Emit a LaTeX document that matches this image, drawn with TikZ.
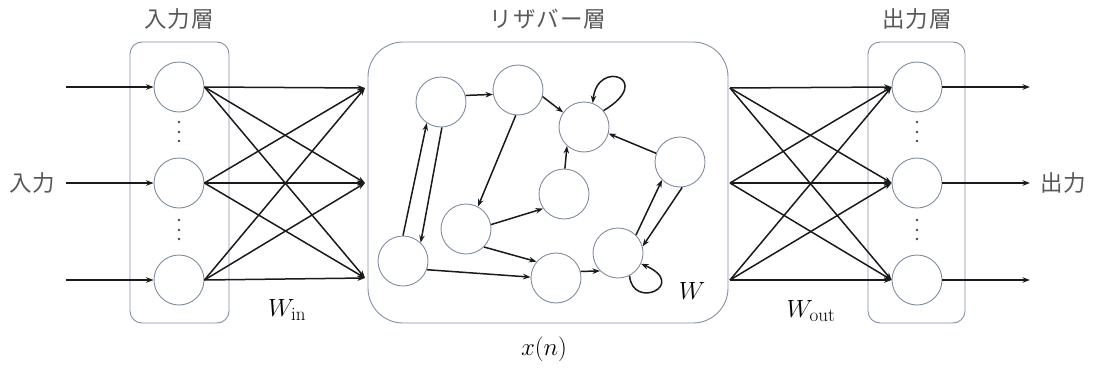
\documentclass[tikz,border=0pt]{standalone}
\usepackage{fontspec}
\usetikzlibrary{arrows.meta}
\newfontfamily\jpfont[LetterSpace=4]{Noto Sans CJK JP}
\DeclareMathSizes{25}{25}{19}{15}
\definecolor{rim}{HTML}{7F8CA0}
\definecolor{frame}{HTML}{8390A6}
\definecolor{labelgray}{HTML}{595959}
\definecolor{wire}{HTML}{1A1A1A}

\begin{document}
\begin{tikzpicture}[x=1pt,y=-1pt,
  neuron/.style={circle,draw=rim,line width=0.9pt,minimum size=50pt,inner sep=0pt,fill=white},
  layerbox/.style={draw=frame,line width=0.9pt,rounded corners=12pt},
  link/.style={draw=wire,line width=1.5pt,-{Stealth[length=7.5pt,width=5.5pt]}},
  title/.style={text=labelgray,font=\jpfont\fontsize{22.5}{26}\selectfont},
  mathlbl/.style={font=\fontsize{25}{29}\selectfont},
  dotmark/.style={fill=wire!80}
  ]
\useasboundingbox (0,0) rectangle (1094,367);

% layer frames
\draw[layerbox] (130,42) rectangle (229,323);
\draw[layerbox,rounded corners=35pt] (368,42) rectangle (728,323);
\draw[layerbox] (868,42) rectangle (965,323);

% layer titles
\node[title] (tin)  at (179,19) {入力層};
\node[title] (tres) at (548,19) {リザバー層};
\node[title] (tout) at (917,19) {出力層};
\node[title] (lin)  at (32,183) {入力};
\node[title] (lout) at (1063,183) {出力};

% input and output neurons
\foreach \n/\y in {1/87,2/183,3/280}{
  \node[neuron] (i\n) at (179,\y) {};
  \node[neuron] (o\n) at (917,\y) {};
  \coordinate (src\n) at (66,\y);
  \coordinate (dst\n) at (1030,\y);
}
\foreach \x in {179,917}{
  \foreach \y in {122,132,141,220,230,239}
    \fill[dotmark] (\x,\y) circle (1.3pt);
}

% reservoir edge ports
\coordinate (rl1) at (365,88);
\coordinate (rl2) at (365,183);
\coordinate (rl3) at (365,278);
\coordinate (rr1) at (730,88);
\coordinate (rr2) at (730,183);
\coordinate (rr3) at (730,280);

% reservoir neurons
\node[neuron] (ra) at (441,102) {};
\node[neuron] (rb) at (518,90) {};
\node[neuron] (rc) at (584,127) {};
\node[neuron] (rd) at (680,162) {};
\node[neuron] (re) at (564,194) {};
\node[neuron] (rf) at (466,229) {};
\node[neuron] (rg) at (403,261) {};
\node[neuron] (rh) at (556,278) {};
\node[neuron] (ri) at (618,253) {};

% external inputs and outputs
\foreach \n in {1,2,3}{
  \draw[link] (src\n) -- (i\n.west);
  \draw[link] (o\n.east) -- (dst\n);
}

% input weights W_in and output weights W_out
\foreach \a in {1,2,3}{
  \foreach \b in {1,2,3}{
    \draw[link] (i\a.east) -- (rl\b);
    \draw[link] (rr\a) -- (o\b.west);
  }
}

% recurrent connections W
\draw[link] (ra.15) -- (rb.190);
\draw[link] (rb.-15) -- (rc.145);
\draw[link] (rb.265) -- (rf.62);
\draw[link] (rg.90) -- (ra.236);
\draw[link] (ra.272) -- (rg.46);
\draw[link] (re.88) -- (rc.228);
\draw[link] (rd.160) -- (rc.-15);
\draw[link] (rf.10) -- (re.215);
\draw[link] (rf.315) -- (rh.140);
\draw[link] (rg.340) -- (rh.178);
\draw[link] (rh.15) -- (ri.225);
\draw[link] (ri.45) -- (rd.225);
\draw[link] (rd.275) -- (ri.15);
\draw[link] (rc.40) .. controls +(52,-31) and +(5,-45) .. (rc.70);
\draw[link] (ri.-63) .. controls +(3,35) and +(48,21) .. (ri.-25);

% weight and state labels
\node[mathlbl] (win)  at (287,310) {$W_{\mathrm{in}}$};
\node[mathlbl] (wout) at (811,311) {$W_{\mathrm{out}}$};
\node[mathlbl] (wres) at (692,291) {$W$};
\node[mathlbl] (xn)   at (544,349) {$x(n)$};
\end{tikzpicture}
\end{document}
